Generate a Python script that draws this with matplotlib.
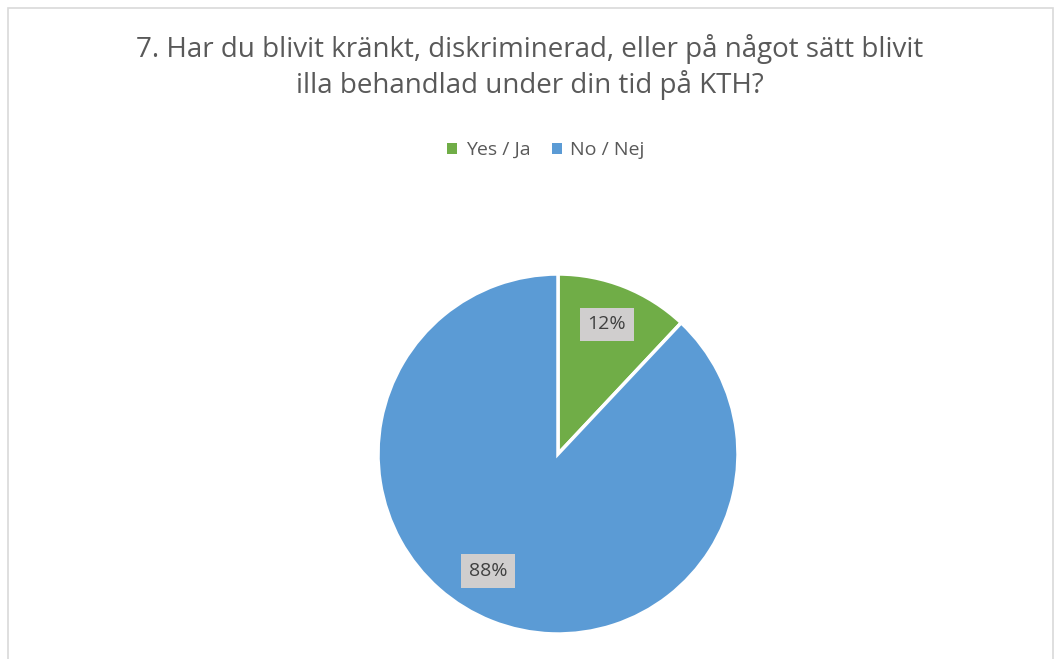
import matplotlib.pyplot as plt
from matplotlib.patches import Rectangle

# Datos del gráfico
categorias = ['Yes / Ja', 'No / Nej']
valores = [12, 88]
colores = ['#70AD47', '#5B9BD5']
titulo = '7. Har du blivit kränkt, diskriminerad, eller på något sätt blivit\nilla behandlad under din tid på KTH?'

plt.rcParams['font.family'] = ['Open Sans', 'DejaVu Sans']

W, H = 1054, 659
fig = plt.figure(figsize=(W / 100, H / 100), dpi=100)

# Marco del gráfico
fig.add_artist(Rectangle((8 / W, -0.1), (W - 9) / W, (H - 8) / H + 0.1,
                         transform=fig.transFigure, fill=False,
                         edgecolor='#D9D9D9', linewidth=1.2))

# Título
fig.text(530 / W, 1 - 67 / H, titulo, ha='center', va='center',
         fontsize=20, color='#595959', linespacing=1.3)

# Eje del pastel
cx, cy, r = 558, 454, 180
ax = fig.add_axes([(cx - r) / W, (H - cy - r) / H, 2 * r / W, 2 * r / H])
wedges, _ = ax.pie(valores, colors=colores, startangle=90, counterclock=False,
                   wedgeprops=dict(edgecolor='white', linewidth=2.5))
ax.set_xlim(-1, 1)
ax.set_ylim(-1, 1)
ax.set_aspect('equal')

# Etiquetas de datos
pos_etiquetas = [(0.27, 0.72), (-0.39, -0.65)]
for v, (x, y) in zip(valores, pos_etiquetas):
    ax.text(x, y, f'{v}%', ha='center', va='center', fontsize=14, color='#404040',
            bbox=dict(boxstyle='square,pad=0.4', facecolor='#D0CECE', edgecolor='none'))

# Leyenda
ley = fig.legend(wedges, categorias, loc='center', bbox_to_anchor=(546 / W, 1 - 150 / H),
                 ncol=2, frameon=False, fontsize=14, handlelength=0.5, handleheight=0.5,
                 handletextpad=0.45, columnspacing=1.1, labelcolor='#595959')
for h in ley.legend_handles:
    h.set_edgecolor('none')

fig.savefig('out.png', dpi=100)
